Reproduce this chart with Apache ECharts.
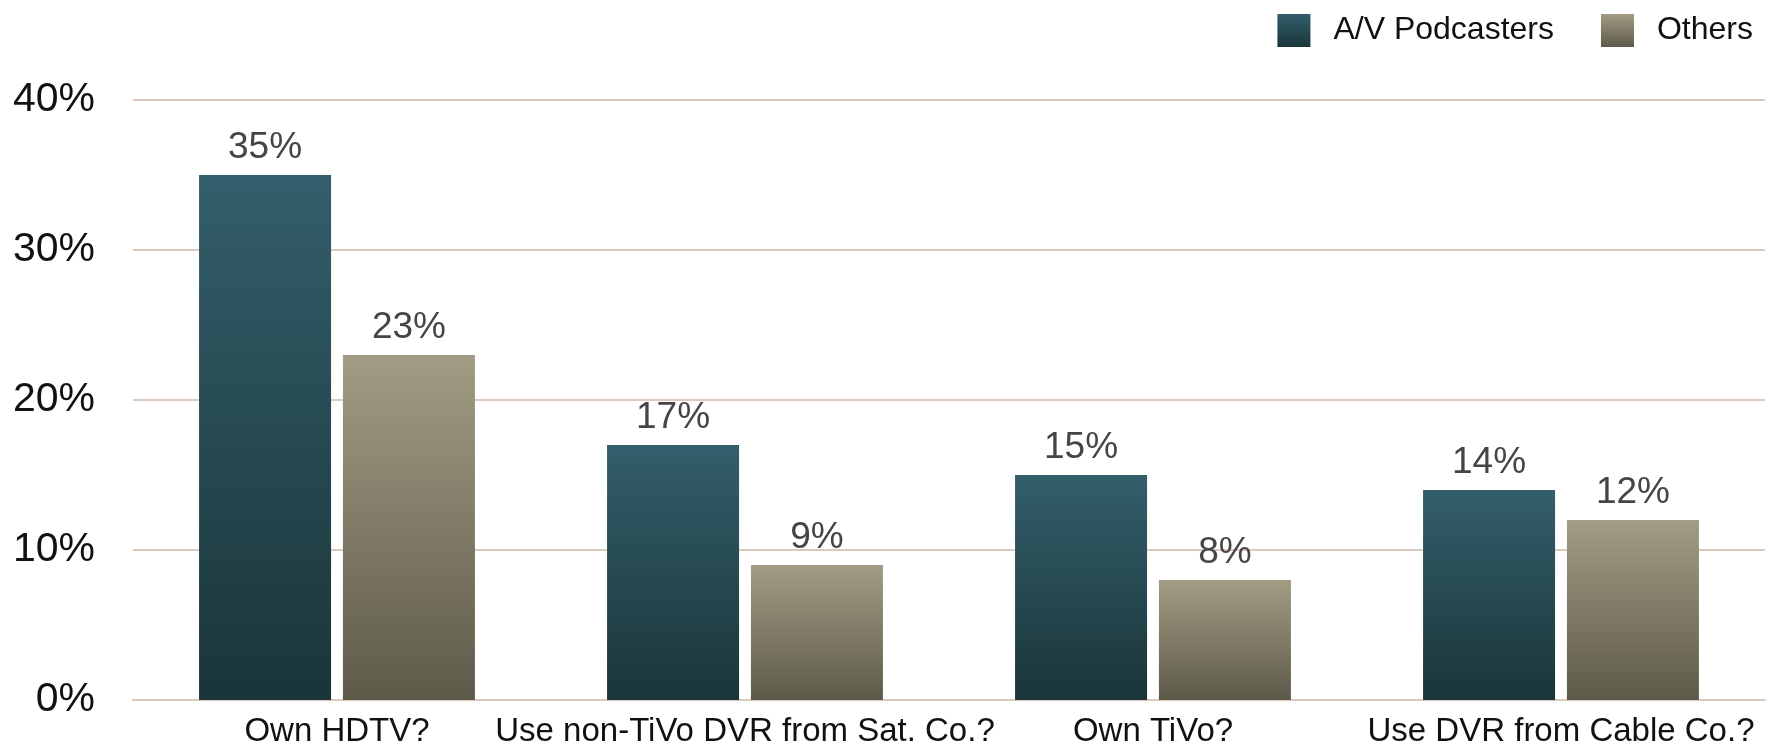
<!DOCTYPE html>
<html>
<head>
<meta charset="utf-8">
<script src="https://cdn.jsdelivr.net/npm/echarts@6/dist/echarts.min.js"></script>
<style>
  html, body { margin: 0; padding: 0; background: #fff; }
  #chart { width: 1775px; height: 756px; }
</style>
</head>
<body>
<div id="chart"></div>
<script>
const categories = ['Own HDTV?', 'Use non-TiVo DVR from Sat. Co.?', 'Own TiVo?', 'Use DVR from Cable Co.?'];
const podcasters = [35, 17, 15, 14];
const others = [23, 9, 8, 12];
const seriesNames = ['A/V Podcasters', 'Others'];

const font = '"Liberation Sans", Arial, Helvetica, sans-serif';
const gridColor = '#dbc8bf';

function grad(top, bottom) {
  return new echarts.graphic.LinearGradient(0, 0, 0, 1, [
    { offset: 0, color: top },
    { offset: 1, color: bottom }
  ]);
}

const chart = echarts.init(document.getElementById('chart'));

const barLabel = {
  show: true,
  position: 'top',
  distance: 9,
  formatter: '{c}%',
  fontSize: 37,
  color: '#454545',
  fontFamily: font
};

const option = {
  animation: false,
  textStyle: { fontFamily: font },
  legend: {
    top: 9,
    right: 17,
    itemWidth: 33,
    itemHeight: 33,
    itemGap: 47,
    icon: 'rect',
    textStyle: { fontSize: 32, color: '#111', fontFamily: font, padding: [0, 0, 0, 18] },
    data: seriesNames
  },
  grid: { left: 133, right: 10, top: 100, bottom: 56, containLabel: false },
  xAxis: {
    type: 'category',
    data: categories,
    axisTick: { show: false },
    axisLine: { lineStyle: { color: gridColor, width: 2 } },
    axisLabel: { fontSize: 33, color: '#111', margin: 15, fontFamily: font, interval: 0 }
  },
  yAxis: {
    type: 'value',
    min: 0,
    max: 40,
    interval: 10,
    axisLine: { show: false },
    axisTick: { show: false },
    axisLabel: { formatter: '{value}%', fontSize: 41, color: '#111', margin: 38, fontFamily: font },
    splitLine: { lineStyle: { color: gridColor, width: 2 } }
  },
  series: [
    {
      name: seriesNames[0],
      type: 'bar',
      data: podcasters,
      barWidth: 132,
      barGap: '9%',
      itemStyle: { color: grad('#335e6b', '#1a3539') },
      label: barLabel
    },
    {
      name: seriesNames[1],
      type: 'bar',
      data: others,
      barWidth: 132,
      barGap: '9%',
      itemStyle: { color: grad('#a29c84', '#5e5a4a') },
      label: barLabel
    }
  ]
};

chart.setOption(option);
</script>
</body>
</html>
